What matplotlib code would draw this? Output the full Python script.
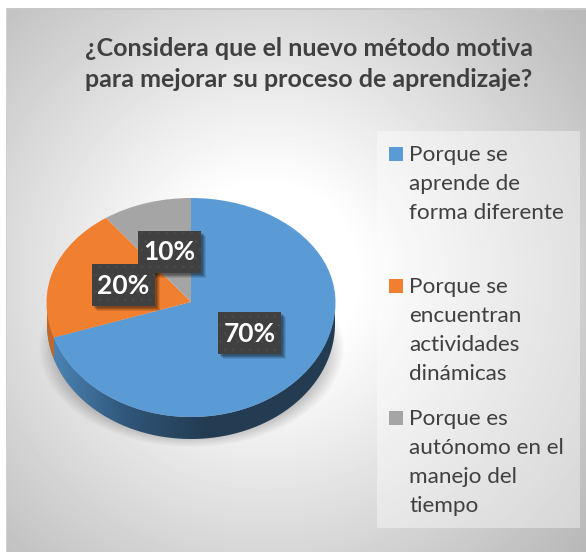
import numpy as np
import matplotlib
matplotlib.use('Agg')
import matplotlib.pyplot as plt
from matplotlib.colors import LinearSegmentedColormap
from matplotlib.patches import Rectangle, Polygon

W, H = 586, 552

title = '¿Considera que el nuevo método motiva\npara mejorar su proceso de aprendizaje?'
categorias = ['Porque se\naprende de\nforma diferente',
              'Porque se\nencuentran\nactividades\ndinámicas',
              'Porque es\nautónomo en el\nmanejo del\ntiempo']
valores = [70, 20, 10]
colores = ['#5b9bd5', '#f07f30', '#a5a5a5']

plt.rcParams['font.family'] = ['Lato', 'DejaVu Sans']

# geometria del pastel en pixeles
rx, ry_up, ry_down, depth = 144.5, 104.0, 115.0, 22.0
cx, cy = 191.0, 302.0


def px_axes(fig, zorder):
    # ejes a pantalla completa en pixeles
    ax = fig.add_axes([0, 0, 1, 1], zorder=zorder)
    ax.set_xlim(0, W)
    ax.set_ylim(H, 0)
    ax.axis('off')
    ax.patch.set_alpha(0)
    return ax


def draw_background(ax):
    yy, xx = np.mgrid[0:H, 0:W]
    # degradado radial del panel
    r = np.sqrt((xx - 265.0) ** 2 + (yy - 275.0) ** 2)
    img = 1 - 0.00085 * np.clip(r - 90, 0, None)
    # sombra suave bajo el pastel
    e = np.sqrt(((xx - 191) / 153.0) ** 2 + ((yy - 347) / 100.0) ** 2)
    sombra = np.clip((1.0 - e) / 0.12, 0, 1) * np.clip((yy - 280) / 60.0, 0, 1)
    img = img * (1 - 0.22 * sombra)
    img[:8, :] = 1
    img[:, :6] = 1
    img[8:10, 6:] = 0.78
    img[8:, 6:7] = 0.82
    ax.imshow(img, cmap='gray', vmin=0, vmax=1, extent=(0, W, H, 0), aspect='auto', zorder=0,
              interpolation='bilinear')
    ax.set_xlim(0, W)
    ax.set_ylim(H, 0)
    # fondo de la leyenda
    ax.add_patch(Rectangle((377, 131), 203, 397, facecolor='white', alpha=0.4, edgecolor='none', zorder=1))


def draw_wall(ax):
    # pared lateral del pastel con degradado horizontal
    ang = np.linspace(0, np.pi, 200)
    xs = cx + (rx - 0.5) * np.cos(ang)
    ys = cy + ry_down * np.sin(ang)
    poly = np.column_stack([np.r_[xs, xs[::-1]], np.r_[ys, ys[::-1] + depth]])
    cmap = LinearSegmentedColormap.from_list('pared', ['#4c83b4', '#2f5578', '#243c52', '#243c52'])
    grad = np.clip((np.linspace(0, W, W) - 52) / 230.0, 0, 1).reshape(1, -1)
    im = ax.imshow(grad, cmap=cmap, vmin=0, vmax=1, extent=(0, W, H, 0), aspect='auto', zorder=1)
    im.set_clip_path(Polygon(poly, transform=ax.transData))
    ax.set_xlim(0, W)
    ax.set_ylim(H, 0)
    # tramo naranja a la izquierda
    a = np.deg2rad(np.linspace(162, 180, 20))
    xo = cx + (rx - 0.5) * np.cos(a)
    yo = cy + ry_down * np.sin(a)
    ax.fill(np.r_[xo, xo[::-1]], np.r_[yo, yo[::-1] + depth], color='#c0682a', linewidth=0, zorder=2)


def draw_pie(fig):
    y_min = -(ry_down + depth + 2) / ry_down
    ax = fig.add_axes([(cx - rx) / W, (H - (cy + ry_down + depth + 2)) / H, 2 * rx / W,
                       (ry_up + ry_down + depth + 2) / H], zorder=2)
    ax.pie(valores, colors=colores, startangle=90, counterclock=False, radius=1,
           wedgeprops={'linewidth': 0})
    ax.set_aspect('auto')

    def forward(y):
        y = np.asarray(y, dtype=float)
        return np.where(y >= 0, y * ry_up, y * ry_down)

    def inverse(v):
        v = np.asarray(v, dtype=float)
        return np.where(v >= 0, v / ry_up, v / ry_down)

    ax.set_yscale('function', functions=(forward, inverse))
    ax.set_xlim(-1, 1)
    ax.set_ylim(y_min, 1)
    ax.axis('off')
    ax.patch.set_alpha(0)
    return ax


def draw_labels(ax):
    cajas = [(218, 312), (92, 264), (138, 231)]
    for val, (x, y) in zip(valores, cajas):
        for k, a in ((5, 0.10), (4, 0.12), (3, 0.15), (2, 0.18)):
            ax.add_patch(Rectangle((x + k, y + k), 63, 42, facecolor='black', alpha=a, edgecolor='none', zorder=3))
        ax.add_patch(Rectangle((x, y), 63, 42, facecolor='#404040', edgecolor='#484848', hatch='..',
                               linewidth=0, zorder=4))
        ax.text(x + 31.5, y + 21.5, f'{val}%', color='white', fontsize=19, fontweight='bold',
                ha='center', va='center', zorder=5)


def draw_legend(ax):
    posiciones = [147, 279, 411]
    for cat, col, y in zip(categorias, colores, posiciones):
        ax.add_patch(Rectangle((389, y), 14, 14, facecolor=col, edgecolor='none', zorder=3))
        ax.text(409, y - 2, cat, color='#404040', fontsize=16.2, va='top', ha='left',
                linespacing=1.57, zorder=3)


def main():
    fig = plt.figure(figsize=(W / 100, H / 100), dpi=100, facecolor='white')
    bg = px_axes(fig, 0)
    draw_background(bg)
    wall = px_axes(fig, 1)
    draw_wall(wall)
    draw_pie(fig)
    top = px_axes(fig, 5)
    draw_labels(top)
    draw_legend(top)
    top.text(309, 64, title, color='#404040', fontsize=18, fontweight='bold', ha='center', va='center',
             linespacing=1.47, zorder=3)
    fig.savefig('out.png', dpi=100)


if __name__ == '__main__':
    main()
